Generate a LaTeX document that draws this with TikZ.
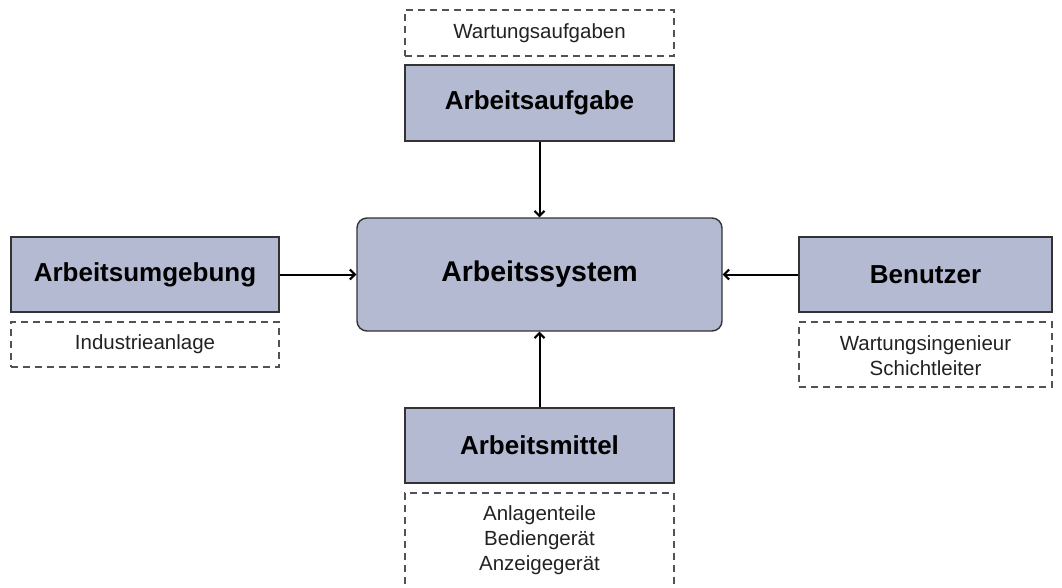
\documentclass[tikz,border=0pt]{standalone}
\usepackage{fontspec}
\setmainfont{Liberation Sans}
\usetikzlibrary{arrows.meta}
\definecolor{boxfill}{HTML}{B5BAD3}
\definecolor{boxline}{HTML}{333333}
\definecolor{notetext}{HTML}{222222}
\begin{document}
\begin{tikzpicture}[x=1pt,y=-1pt,
  mainbox/.style={draw=boxline, line width=1.4pt, fill=boxfill, inner sep=0pt,
    font=\fontsize{26}{30}\selectfont\bfseries, text=black},
  notebox/.style={draw=boxline!85, line width=1.1pt, dash pattern=on 7pt off 5pt,
    inner sep=0pt, align=center, font=\fontsize{20.5}{25}\selectfont, text=notetext},
  notetxt/.style={inner sep=0pt, align=center, font=\fontsize{20.5}{25}\selectfont, text=notetext},
  link/.style={line width=2pt, draw=black, -{Straight Barb[length=5pt,width=10pt]}}
]
\clip (0,0) rectangle (1062,587);
\useasboundingbox (0,0) rectangle (1062,587);

% central work system
\node[mainbox, rounded corners=10pt, minimum width=365pt, minimum height=113pt,
  font=\fontsize{28.5}{33}\selectfont\bfseries] (as) at (539.5,274.5) {Arbeitssystem};

% task (top)
\node[notebox, minimum width=269pt, minimum height=46pt] (wa) at (539.5,33) {Wartungsaufgaben};
\node[mainbox, minimum width=269pt, minimum height=76pt] (aa) at (539.5,103) {Arbeitsaufgabe};

% environment (left)
\node[mainbox, minimum width=268pt, minimum height=75pt] (au) at (145,274.5) {Arbeitsumgebung};
\node[notebox, minimum width=268pt, minimum height=45pt] (ia) at (145,344.5) {Industrieanlage};

% user (right)
\node[mainbox, minimum width=253pt, minimum height=75pt] (be) at (925.5,274.5) {Benutzer};
\node[notebox, minimum width=253pt, minimum height=65pt] (bn) at (925.5,354.5) {};
\node[notetxt] (bt) at (925.5,356) {Wartungsingenieur\\Schichtleiter};

% equipment (bottom)
\node[mainbox, minimum width=269pt, minimum height=75pt] (am) at (539.5,445.5) {Arbeitsmittel};
\node[notebox, minimum width=269pt, minimum height=110pt] (mb) at (539.5,548) {};
\node[notetxt] (mt) at (539.5,540) {Anlagenteile\\Bediengerät\\Anzeigegerät};

% connectors
\draw[link] (aa.south) -- (as.north);
\draw[link] (au.east) -- (as.west);
\draw[link] (be.west) -- (as.east);
\draw[link] (am.north) -- (as.south);
\end{tikzpicture}
\end{document}
